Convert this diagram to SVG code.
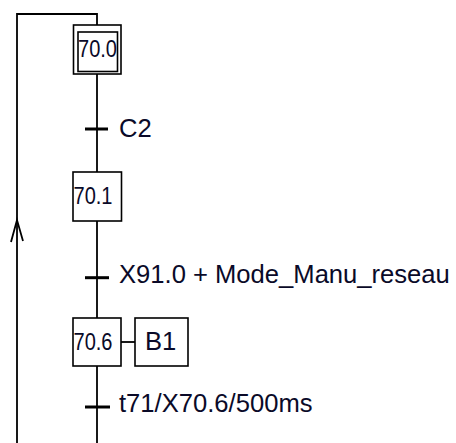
<svg xmlns="http://www.w3.org/2000/svg" width="456" height="443" viewBox="0 0 456 443">
<style>
.box{fill:#fff;stroke:#000;stroke-width:1.6}
.ln{fill:none;stroke:#000;stroke-width:1.8}
.bar{stroke:#000;stroke-width:3}
.step{font-family:"Liberation Sans",Arial,sans-serif;font-size:24px;fill:#0a0a28}
.lbl{font-family:"Liberation Sans",Arial,sans-serif;font-size:25.6px;fill:#0a0a28}
</style>
<rect width="456" height="443" fill="#fff"/>
<g id="connectors">
<polyline class="ln" points="97,25 97,14 17,14 17,443"/>
<polyline class="ln" points="11,242 17,220 23,241"/>
<line class="ln" x1="97" y1="74" x2="97" y2="172"/>
<line class="ln" x1="97" y1="221" x2="97" y2="318"/>
<line class="ln" x1="97" y1="366" x2="97" y2="443"/>
<line class="ln" x1="121" y1="342" x2="135" y2="342"/>
</g>
<g id="step-70.0">
<rect class="box" x="73.5" y="25" width="47.5" height="49"/>
<rect class="box" x="78" y="32" width="39.5" height="39.5"/>
<text class="step" x="78" y="57.3" font-size="22" textLength="39" lengthAdjust="spacingAndGlyphs">70.0</text>
</g>
<g id="t-C2">
<line class="bar" x1="85" y1="129" x2="108" y2="129"/>
<text class="lbl" x="119" y="137">C2</text>
</g>
<g id="step-70.1">
<rect class="box" x="73" y="172" width="48.5" height="49"/>
<text class="step" x="73.5" y="204" textLength="39" lengthAdjust="spacingAndGlyphs">70.1</text>
</g>
<g id="t-X91">
<line class="bar" x1="85" y1="277.7" x2="109" y2="277.7"/>
<text class="lbl" x="119" y="283">X91.0 + Mode_Manu_reseau</text>
</g>
<g id="step-70.6">
<rect class="box" x="73" y="318" width="48" height="48"/>
<text class="step" x="73.5" y="350" textLength="39" lengthAdjust="spacingAndGlyphs">70.6</text>
</g>
<g id="action-B1">
<rect class="box" x="135" y="318" width="53" height="48"/>
<text class="lbl" x="145" y="350" font-size="25">B1</text>
</g>
<g id="t-t71">
<line class="bar" x1="85" y1="407" x2="110" y2="407"/>
<text class="lbl" x="119" y="412">t71/X70.6/500ms</text>
</g>
</svg>
